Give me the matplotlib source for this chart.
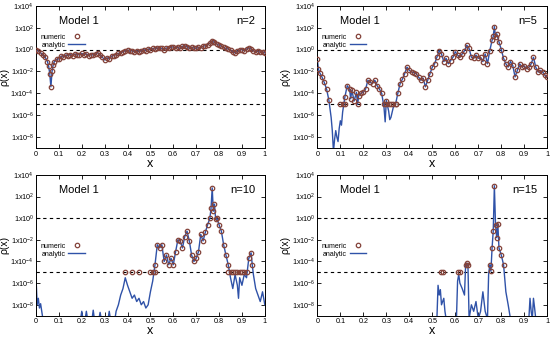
import numpy as np
import matplotlib
matplotlib.use('Agg')
import matplotlib.pyplot as plt

plt.rcParams['font.family'] = ['Liberation Sans', 'DejaVu Sans']
plt.rcParams['mathtext.fontset'] = 'custom'
plt.rcParams['mathtext.rm'] = 'Liberation Sans'
plt.rcParams['mathtext.it'] = 'Liberation Sans:italic'

# log10 rho(x), analytic curve
x_n2 = [0.00, 0.01, 0.02, 0.03, 0.04, 0.05, 0.055, 0.06, 0.065, 0.07, 0.075, 0.08, 0.09,
        0.10, 0.11, 0.12, 0.13, 0.14, 0.15, 0.16, 0.17, 0.18, 0.19, 0.20, 0.21, 0.22,
        0.23, 0.24, 0.25, 0.26, 0.27, 0.28, 0.29, 0.30, 0.31, 0.32, 0.33, 0.34, 0.35,
        0.36, 0.37, 0.38, 0.39, 0.40, 0.41, 0.42, 0.43, 0.44, 0.45, 0.46, 0.47, 0.48,
        0.49, 0.50, 0.51, 0.52, 0.53, 0.54, 0.55, 0.56, 0.57, 0.58, 0.59, 0.60, 0.61,
        0.62, 0.63, 0.64, 0.65, 0.66, 0.67, 0.68, 0.69, 0.70, 0.71, 0.72, 0.73, 0.74,
        0.75, 0.76, 0.77, 0.775, 0.78, 0.79, 0.80, 0.81, 0.82, 0.83, 0.84, 0.85, 0.86,
        0.87, 0.88, 0.89, 0.90, 0.91, 0.92, 0.93, 0.94, 0.95, 0.96, 0.97, 0.98, 0.99, 1.00]
y_n2 = [-0.05, -0.15, -0.3, -0.45, -0.7, -1.1, -1.5, -2.2, -3.4, -2.0, -1.4, -1.1, -0.9,
        -0.85, -0.6, -0.7, -0.5, -0.55, -0.45, -0.55, -0.4, -0.5, -0.45, -0.35, -0.45, -0.4,
        -0.55, -0.45, -0.5, -0.4, -0.3, -0.45, -0.7, -0.95, -0.75, -0.85, -0.6, -0.55, -0.45,
        -0.35, -0.3, -0.2, -0.1, -0.05, -0.15, -0.1, -0.2, -0.1, -0.2, -0.1, 0.0, -0.1,
        0.05, 0.0, 0.1, 0.05, 0.15, 0.1, 0.1, 0.0, 0.15, 0.1, 0.2, 0.25, 0.15,
        0.2, 0.1, 0.3, 0.35, 0.25, 0.1, 0.2, 0.15, 0.1, 0.2, 0.15, 0.3, 0.35,
        0.45, 0.6, 0.8, 0.7, 0.65, 0.5, 0.4, 0.3, 0.2, 0.1, 0.05, -0.05, -0.2,
        -0.3, -0.15, -0.05, 0.0, -0.1, 0.05, 0.15, 0.05, -0.1, -0.2, -0.15, -0.25, -0.2, -0.3]

x_n5 = [0.00, 0.005, 0.01, 0.02, 0.03, 0.04, 0.05, 0.06, 0.065, 0.07, 0.075, 0.08, 0.085,
        0.09, 0.095, 0.10, 0.105, 0.11, 0.12, 0.13, 0.14, 0.145, 0.15, 0.16, 0.17, 0.175,
        0.18, 0.19, 0.20, 0.21, 0.22, 0.23, 0.24, 0.25, 0.26, 0.27, 0.28, 0.29, 0.295,
        0.30, 0.31, 0.315, 0.32, 0.33, 0.34, 0.35, 0.36, 0.37, 0.38, 0.39, 0.40, 0.41,
        0.42, 0.43, 0.44, 0.45, 0.46, 0.47, 0.48, 0.49, 0.50, 0.51, 0.52, 0.53, 0.54,
        0.55, 0.56, 0.57, 0.58, 0.59, 0.60, 0.61, 0.62, 0.63, 0.64, 0.65, 0.66, 0.67,
        0.68, 0.69, 0.70, 0.71, 0.72, 0.73, 0.74, 0.75, 0.76, 0.765, 0.77, 0.775, 0.78,
        0.79, 0.80, 0.81, 0.82, 0.83, 0.84, 0.85, 0.86, 0.87, 0.88, 0.89, 0.90, 0.91,
        0.92, 0.93, 0.94, 0.95, 0.96, 0.97, 0.98, 0.99, 1.00]
y_n5 = [-0.9, -1.8, -2.1, -2.5, -3.0, -3.6, -4.6, -6.2, -7.4, -9.3, -8.2, -7.4, -8.0,
        -8.4, -7.2, -6.5, -6.9, -5.7, -4.3, -3.3, -3.6, -4.5, -3.7, -4.7, -3.9, -5.0,
        -4.2, -4.0, -3.9, -3.6, -2.8, -3.0, -3.1, -2.8, -3.3, -3.6, -4.0, -5.3, -6.6,
        -4.65, -5.6, -6.4, -6.2, -5.3, -5.0, -4.0, -3.1, -2.7, -2.2, -1.6, -1.9, -2.05,
        -2.1, -2.2, -2.5, -2.8, -2.6, -3.4, -2.8, -2.2, -1.6, -1.3, -0.7, -0.1, -0.4,
        -1.1, -0.8, -1.3, -1.0, -0.7, -0.2, -0.5, -0.7, -0.4, -0.1, 0.4, 0.1, -0.7,
        -0.8, -0.5, -0.8, -0.7, -1.1, -0.4, -1.3, -0.1, 0.85, 1.2, 2.1, 1.15, 1.45,
        0.7, 0.0, -0.8, -1.3, -1.6, -1.1, -1.45, -2.5, -1.9, -1.3, -1.6, -1.5, -1.75,
        -1.6, -1.3, -0.7, -1.6, -2.05, -1.9, -2.05, -2.35, -2.5]
floor_n5 = [0.10, 0.11, 0.12, 0.29, 0.30, 0.31, 0.32, 0.33, 0.34]

x_n10 = [0.00, 0.005, 0.01, 0.015, 0.02, 0.025, 0.03, 0.035, 0.195, 0.20, 0.205, 0.215,
         0.22, 0.225, 0.245, 0.25, 0.255, 0.275, 0.28, 0.285, 0.315, 0.32, 0.325, 0.345,
         0.35, 0.36, 0.37, 0.38, 0.39, 0.40, 0.41, 0.42, 0.43, 0.44, 0.45, 0.46, 0.47,
         0.48, 0.49, 0.50, 0.51, 0.52, 0.53, 0.54, 0.55, 0.56, 0.57, 0.58, 0.59, 0.60,
         0.61, 0.62, 0.63, 0.64, 0.65, 0.66, 0.67, 0.68, 0.69, 0.70, 0.71, 0.72, 0.73,
         0.74, 0.75, 0.76, 0.765, 0.77, 0.775, 0.78, 0.785, 0.79, 0.80, 0.81, 0.82, 0.83,
         0.84, 0.85, 0.86, 0.87, 0.88, 0.885, 0.89, 0.90, 0.91, 0.92, 0.93, 0.94, 0.945,
         0.95, 0.96, 0.97, 0.98, 0.99, 1.00]
y_n10 = [-5.5, -8.0, -7.4, -8.3, -7.9, -8.6, -9.3, -9.3, -9.3, -8.6, -9.3, -9.3,
         -8.6, -9.3, -9.3, -8.5, -9.3, -9.3, -8.7, -9.3, -9.3, -8.6, -9.3, -9.3,
         -8.6, -8.0, -7.1, -6.5, -5.5, -6.2, -6.8, -7.4, -7.1, -7.7, -7.4, -8.0, -7.7,
         -8.3, -8.0, -6.8, -5.8, -4.3, -2.45, -2.75, -2.45, -4.0, -3.4, -4.3, -3.7, -4.3,
         -3.1, -2.0, -2.1, -2.75, -1.7, -1.2, -2.1, -3.4, -4.0, -3.7, -3.1, -1.5, -2.1,
         -1.3, -0.6, 0.0, 0.95, 2.8, 0.65, 1.3, -0.1, 0.0, -0.6, -1.2, -2.45, -3.4,
         -4.3, -5.5, -6.5, -5.2, -6.2, -7.4, -5.5, -6.2, -5.2, -5.5, -3.7, -3.2, -4.3,
         -5.2, -6.5, -7.1, -7.7, -6.8, -8.0]
floor_n10 = [0.39, 0.42, 0.45, 0.50, 0.51, 0.52, 0.84, 0.85, 0.86, 0.87, 0.88, 0.89, 0.90, 0.91, 0.92]

x_n15 = [0.515, 0.52, 0.525, 0.53, 0.535, 0.54, 0.55, 0.555, 0.56, 0.605, 0.61, 0.615,
         0.62, 0.63, 0.64, 0.645, 0.65, 0.655, 0.66, 0.67, 0.68, 0.69, 0.70, 0.71, 0.72,
         0.73, 0.74, 0.745, 0.75, 0.755, 0.76, 0.765, 0.77, 0.775, 0.78, 0.785, 0.79, 0.80,
         0.81, 0.82, 0.83, 0.84, 0.915, 0.92, 0.925, 0.93, 0.935, 0.94, 0.945, 0.95]
y_n15 = [-9.3, -9.3, -6.2, -7.1, -6.6, -8.0, -7.4, -8.6, -9.3, -9.3, -5.8, -5.2,
         -6.0, -6.5, -7.1, -4.3, -4.15, -4.3, -9.3, -8.0, -8.6, -7.7, -9.3, -8.6, -6.8,
         -8.6, -9.3, -5.2, -4.3, -4.9, -2.75, -1.2, 3.0, -0.6, -1.8, -0.5, -2.75, -3.4,
         -4.3, -6.8, -8.0, -9.3, -9.3, -9.3, -7.4, -8.6, -9.3, -7.4, -8.3, -9.3]
floor_n15 = [0.54, 0.545, 0.61, 0.62]

panels = [(x_n2, y_n2, [], 'n=2'), (x_n5, y_n5, floor_n5, 'n=5'),
          (x_n10, y_n10, floor_n10, 'n=10'), (x_n15, y_n15, floor_n15, 'n=15')]
boxes = [[0.0655, 0.563, 0.416, 0.420], [0.577, 0.563, 0.418, 0.420],
         [0.0655, 0.069, 0.416, 0.415], [0.577, 0.069, 0.418, 0.415]]
legend_y = [0.75, 0.75, 0.465, 0.465]

line_col = '#2f52a8'
mark_col = '#84433a'

fig = plt.figure(figsize=(5.5, 3.39), dpi=100)
for i, (xs, ys, floor, tag) in enumerate(panels):
    ax = fig.add_axes(boxes[i])
    xs = np.array(xs)
    rho = 10.0 ** np.array(ys)
    keep = rho >= 1e-5
    ax.axhline(1.0, color='black', ls=(0, (3, 3)), lw=0.8, zorder=1)
    ax.axhline(1e-5, color='black', ls=(0, (3, 3)), lw=0.8, zorder=1)
    ax.plot(xs[keep], rho[keep], 'o', ms=3.2, mfc='none', mec=mark_col, mew=0.9,
            label='numeric', zorder=3)
    ax.plot(floor, np.full(len(floor), 1.1e-5), 'o', ms=3.2, mfc='none', mec=mark_col,
            mew=0.9, zorder=3)
    ax.plot(xs, rho, '-', color=line_col, lw=1.0, label='analytic', zorder=2)
    ax.set_yscale('log')
    ax.set_xlim(0, 1)
    ax.set_ylim(1e-9, 1e4)
    ax.set_xticks(np.arange(0, 1.01, 0.1))
    ax.set_xticklabels(['0', '0.1', '0.2', '0.3', '0.4', '0.5', '0.6', '0.7', '0.8', '0.9', '1'])
    ax.set_yticks([1e-8, 1e-6, 1e-4, 1e-2, 1e0, 1e2, 1e4])
    ax.set_yticklabels([r'1x10$^{-8}$', r'1x10$^{-6}$', r'1x10$^{-4}$', r'1x10$^{-2}$',
                        r'1x10$^{0}$', r'1x10$^{2}$', r'1x10$^{4}$'])
    ax.minorticks_off()
    ax.tick_params(direction='in', top=True, right=True, labelsize=5.2, length=3, width=0.6, pad=2)
    ax.tick_params(axis='y', pad=1.5)
    for s in ax.spines.values():
        s.set_linewidth(0.7)
    ax.set_xlabel('x', fontsize=9, labelpad=0)
    ax.set_ylabel('\u03c1(x)', fontsize=7.5)
    ax.yaxis.set_label_coords(-0.118, 0.5)
    ax.text(0.10, 0.89, 'Model 1', transform=ax.transAxes, fontsize=8, va='center')
    ax.text(0.957, 0.89, tag, transform=ax.transAxes, fontsize=8, va='center', ha='right')
    leg = ax.legend(loc='center left', bbox_to_anchor=(0.0, legend_y[i]), frameon=False,
                    markerfirst=False, fontsize=5, handlelength=2.4, handletextpad=0.4,
                    labelspacing=0.15, borderpad=0.1)

plt.savefig('out.png', dpi=100)
